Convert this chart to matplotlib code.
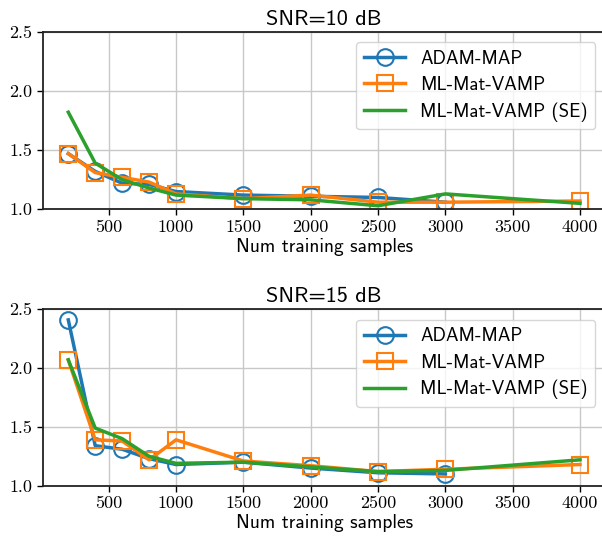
import matplotlib
matplotlib.use("Agg")
import matplotlib.pyplot as plt

x_adam = [200, 400, 600, 800, 1000, 1500, 2000, 2500, 3000]
x_vamp = [200, 400, 600, 800, 1000, 1500, 2000, 2500, 3000, 4000]

adam_10 = [1.47, 1.32, 1.22, 1.21, 1.15, 1.12, 1.11, 1.10, 1.06]
vamp_10 = [1.47, 1.31, 1.27, 1.23, 1.13, 1.09, 1.12, 1.06, 1.06, 1.07]
se_10 = [1.82, 1.39, 1.25, 1.18, 1.12, 1.09, 1.08, 1.03, 1.13, 1.05]

adam_15 = [2.41, 1.34, 1.31, 1.23, 1.18, 1.20, 1.15, 1.11, 1.10]
vamp_15 = [2.07, 1.39, 1.38, 1.22, 1.39, 1.21, 1.17, 1.12, 1.14, 1.18]
se_15 = [2.07, 1.49, 1.40, 1.25, 1.19, 1.20, 1.16, 1.12, 1.13, 1.22]

titles = ["SNR=10 dB", "SNR=15 dB"]
xticks = [500, 1000, 1500, 2000, 2500, 3000, 3500, 4000]
yticks = [1.0, 1.5, 2.0, 2.5]
labels = ["ADAM-MAP", "ML-Mat-VAMP", "ML-Mat-VAMP (SE)"]

W, H = 602, 541
fig = plt.figure(figsize=(W / 100, H / 100), dpi=100)

def ax_rect(left, top, right, bottom):
    return [left / W, 1 - bottom / H, (right - left) / W, (bottom - top) / H]

axes = [fig.add_axes(ax_rect(42.7, 31.7, 605.6, 209.3)),
        fig.add_axes(ax_rect(42.7, 309.3, 605.6, 485.7))]

data = [(adam_10, vamp_10, se_10), (adam_15, vamp_15, se_15)]
sans = "cmss10"
serif = "cmr10"

for ax, (a, v, s), t in zip(axes, data, titles):
    ax.plot(x_adam, a, color="#1f77b4", lw=2.5, marker="o", ms=12,
            mfc="none", mew=1.5, label=labels[0])
    ax.plot(x_vamp, v, color="#ff7f0e", lw=2.5, marker="s", ms=12,
            mfc="none", mew=1.5, label=labels[1])
    ax.plot(x_vamp, s, color="#2ca02c", lw=2.5, label=labels[2])
    ax.set_xlim(10, 4190)
    ax.set_ylim(1.0, 2.5)
    ax.set_xticks(xticks)
    ax.set_yticks(yticks)
    ax.set_xticklabels([str(x) for x in xticks], fontfamily=serif, fontsize=13)
    ax.set_yticklabels([f"{y:.1f}" for y in yticks], fontfamily=serif, fontsize=13)
    ax.grid(True, color="#c8c8c8", lw=1.0)
    ax.set_title(t, fontfamily=sans, fontsize=16, pad=5)
    ax.set_xlabel("Num training samples", fontfamily=sans, fontsize=14, labelpad=2)
    for sp in ax.spines.values():
        sp.set_linewidth(1.3)
        sp.set_color("#222222")
    ax.tick_params(width=1.0, length=4)
    leg = ax.legend(loc="upper right", prop={"family": sans, "size": 13.5},
                    borderaxespad=0.55, handlelength=2.2, labelspacing=0.45)
    leg.get_frame().set_linewidth(1.0)

fig.savefig("out.png", dpi=100)
